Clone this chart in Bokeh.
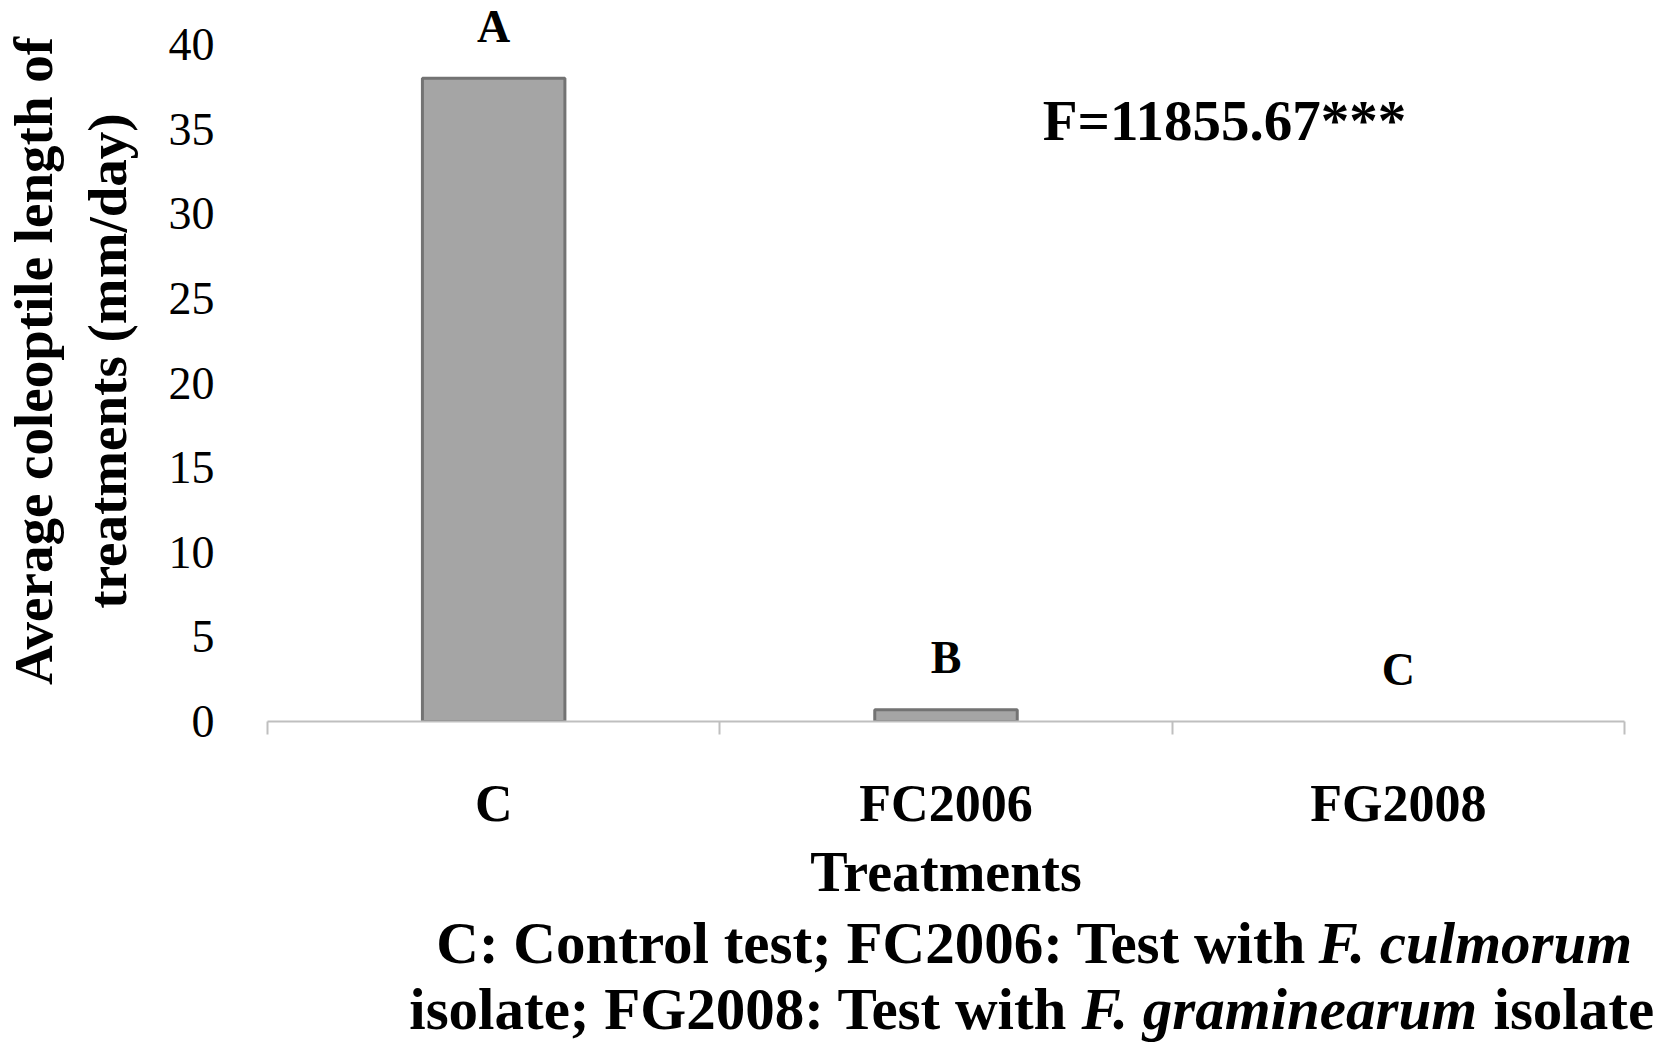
from bokeh.plotting import figure
from bokeh.models import Range1d, FixedTicker, Label
from bokeh.layouts import column
from bokeh.embed import file_html
from bokeh.resources import INLINE
from bokeh.core.properties import value

# ---- data ----
categories = ["C", "FC2006", "FG2008"]
lengths = [38.0, 0.7, 0.0]
letters = ["A", "B", "C"]
y_ticks = [0, 5, 10, 15, 20, 25, 30, 35, 40]
f_text = "F=11855.67***"
y_title = "Average coleoptile length of\ntreatments (mm/day)"
x_title = "Treatments"
cap1_plain = "C: Control test; FC2006: Test with"
cap1_ital = "F. culmorum"
cap2_plain = "isolate; FG2008: Test with"
cap2_ital = "F. graminearum"
cap2_end = "isolate"

SERIF = "Liberation Serif"
W = 1660
H1 = 905
H2 = 140

xs = [i + 0.5 for i in range(len(categories))]
edges = [float(i) for i in range(len(categories) + 1)]

p = figure(width=W, height=H1, x_range=Range1d(0, len(categories)), y_range=Range1d(0, 42.6),
           output_backend="svg", toolbar_location=None,
           min_border_left=259, min_border_right=36, min_border_top=0)
p.frame_align = False
p.outline_line_color = None
p.xgrid.visible = False
p.ygrid.visible = False

bar_line_alpha = [1.0 if v > 0 else 0.0 for v in lengths]
p.vbar(x=xs, top=lengths, width=0.315, fill_color="#a5a5a5", line_color="#737373",
       line_width=3, line_alpha=bar_line_alpha)

p.text(x=xs, y=lengths, text=letters, y_offset=-52, text_align="center", text_baseline="middle",
       text_font=value(SERIF), text_font_style="bold", text_font_size="46px", text_color="black")

p.add_layout(Label(x=1.714, y=35.5, text=f_text, text_font=SERIF, text_font_style="bold",
                   text_font_size="57px", text_baseline="middle", text_align="left", text_color="black"))

# x axis
xa = p.xaxis[0]
xa.ticker = FixedTicker(ticks=xs, minor_ticks=edges)
xa.major_label_overrides = {x: c for x, c in zip(xs, categories)}
xa.major_tick_out = 0
xa.major_tick_in = 0
xa.minor_tick_out = 13
xa.minor_tick_in = 0
xa.minor_tick_line_color = "#bfbfbf"
xa.minor_tick_line_width = 2
xa.axis_line_color = "#bfbfbf"
xa.axis_line_width = 2
xa.major_label_text_font = SERIF
xa.major_label_text_font_style = "bold"
xa.major_label_text_font_size = "52px"
xa.major_label_text_color = "black"
xa.major_label_standoff = 40
xa.axis_label = x_title
xa.axis_label_text_font = SERIF
xa.axis_label_text_font_style = "bold"
xa.axis_label_text_font_size = "56px"
xa.axis_label_text_color = "black"
xa.axis_label_standoff = 6

# y axis
ya = p.yaxis[0]
ya.ticker = FixedTicker(ticks=y_ticks)
ya.axis_line_color = None
ya.major_tick_line_color = None
ya.minor_tick_line_color = None
ya.major_tick_out = 0
ya.major_tick_in = 0
ya.major_label_standoff = 53
ya.major_label_text_font = SERIF
ya.major_label_text_font_size = "46px"
ya.major_label_text_color = "black"
ya.axis_label = y_title
ya.axis_label_text_font = SERIF
ya.axis_label_text_font_style = "bold"
ya.axis_label_text_font_size = "55px"
ya.axis_label_text_color = "black"
ya.axis_label_standoff = 28

# caption figure
c = figure(width=W, height=H2, x_range=Range1d(0, W), y_range=Range1d(0, H2),
           output_backend="svg", toolbar_location=None, x_axis_type=None, y_axis_type=None,
           min_border=0)
c.frame_align = False
c.outline_line_color = None
c.xgrid.visible = False
c.ygrid.visible = False

def cap(x, y, t, align, style):
    c.text(x=[x], y=[y], text=[t], text_align=align, text_baseline="middle",
           text_font=value(SERIF), text_font_style=style, text_font_size="59px", text_color="black")

cap(1306, 103, cap1_plain, "right", "bold")
cap(1318, 103, cap1_ital, "left", "bold italic")
cap(1067, 37, cap2_plain, "right", "bold")
cap(1081, 37, cap2_ital, "left", "bold italic")
cap(1493, 37, cap2_end, "left", "bold")

layout = column(p, c)
open("out.html", "w").write(file_html(layout, INLINE))
